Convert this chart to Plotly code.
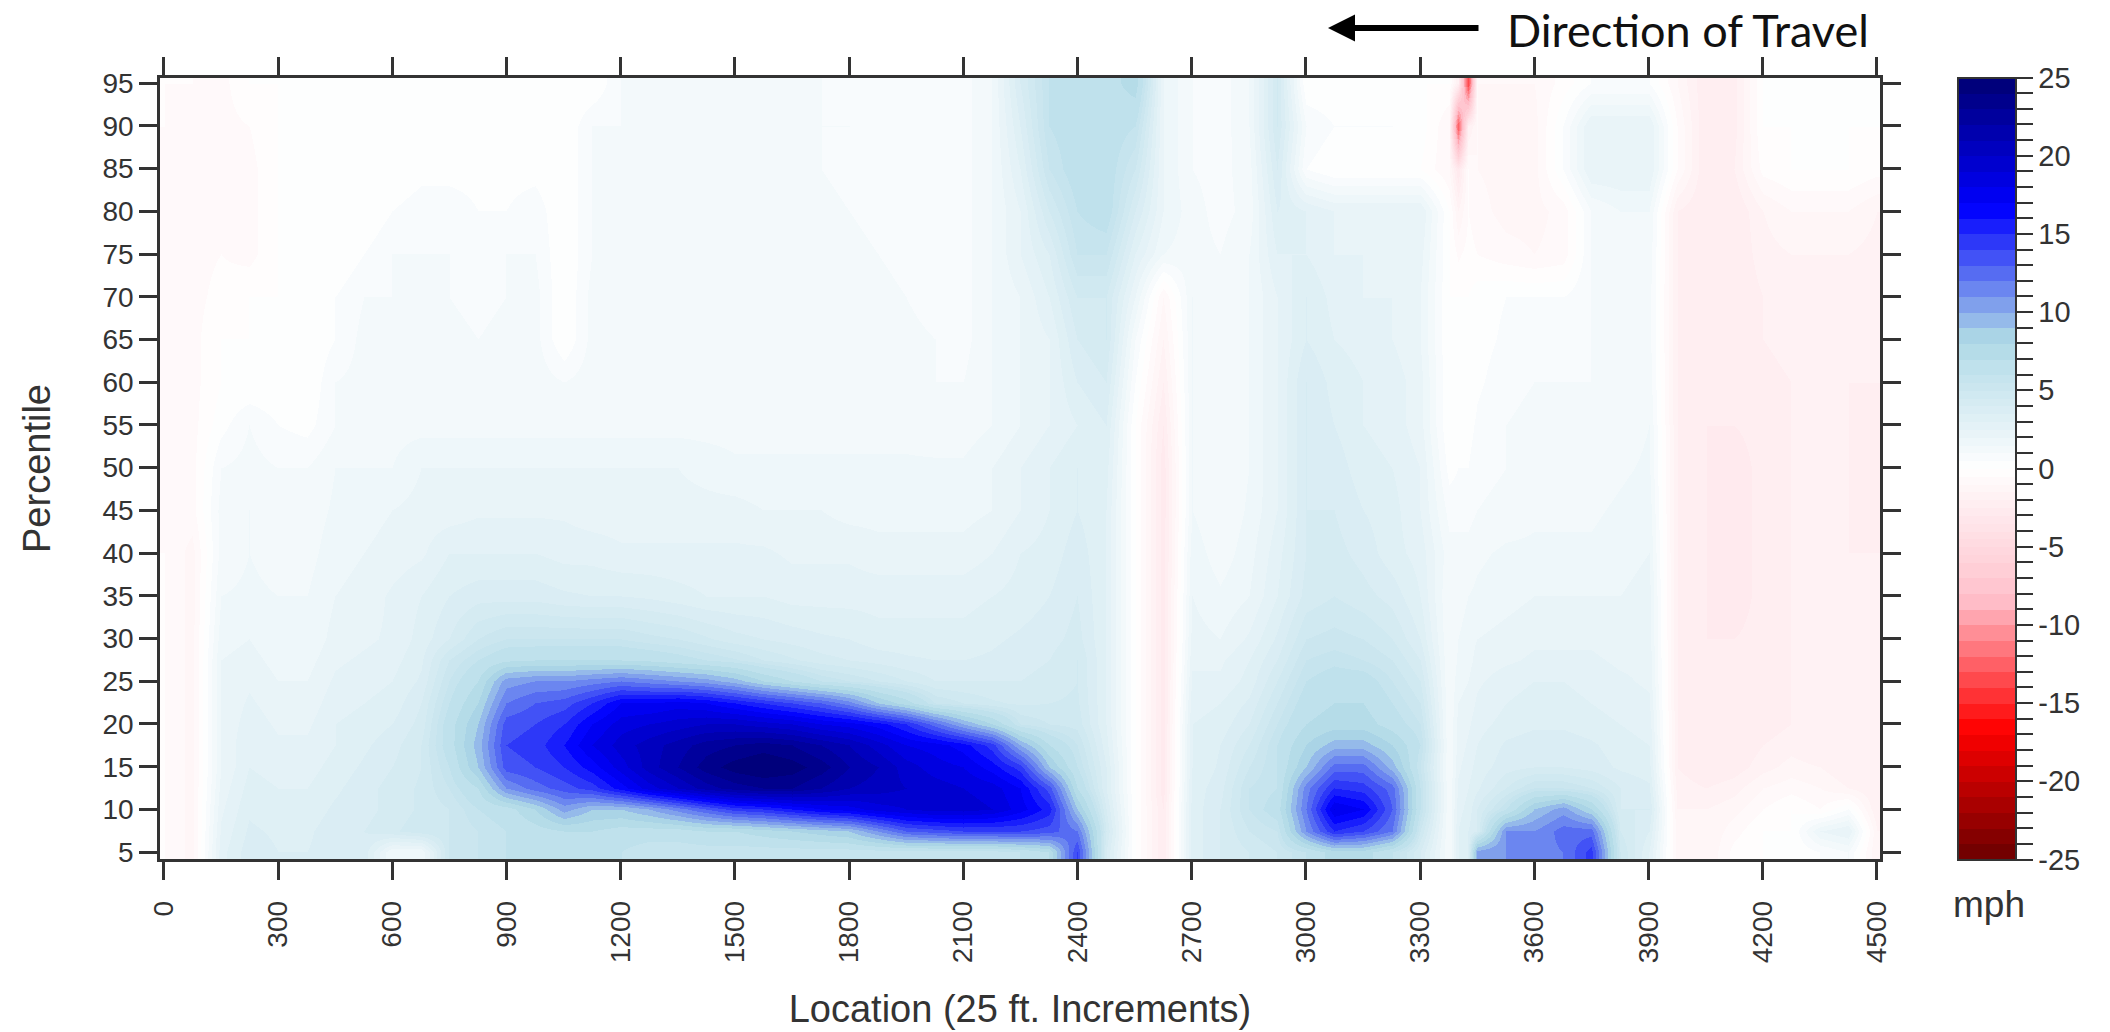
import plotly.graph_objects as go

# Location columns (ft)
locations = [0,75,150,225,300,375,450,525,600,675,
             750,825,900,975,1050,1125,1200,1275,1350,1425,
             1500,1575,1650,1725,1800,1875,1950,2025,2100,2175,
             2250,2325,2400,2475,2550,2625,2700,2775,2850,2925,
             3000,3075,3150,3225,3300,3375,3400,3425,3450,3525,
             3600,3675,3750,3825,3900,3975,4050,4125,4200,4275,
             4350,4425,4500]

p95 = [-0.5,-0.5,-0.7,0,0,0,0,0,0,0, 0,0,0,0,0,0,1,1,1,1, 1,1,1,1,0.6,0.6,0.6,0.6,0.8,1.5,
       4,6,6.5,6.5,7.5,2,1,0.7,1.5,4.5, 0,0,0,0,0,0,-2,-14,-1,-1, -1,-0.3,0.5,0.5,0.5,-1,-2.5,-2.2,0,0, 0,0,0]
p90 = [-0.5,-0.7,-0.7,-0.5,0,0,0,0,0,0, 0,0,0,0,0,1,1,1,1,1, 1,1,1,1,1,0.6,0.5,0.6,0.8,1.5,
       3.5,6,6.5,6.5,6,2,1,0.7,1.5,4.5, 1,0.5,0.5,0.5,0.3,-1,-13,-2,-1,-1.2, -1.2,0.5,2.5,2.5,2.5,-0.5,-2.5,-2.2,0,0, 0,0,0]
p85 = [-0.7,-0.7,-0.7,-0.7,0,0,0,0,0,0.3, 0.3,0.3,0.3,0.3,0,1,1,1.2,1.2,1.2, 1.2,1.2,1.2,1,0.8,0.5,0.5,0.5,0.8,1.5,
       3,5.5,6.5,6.5,5,2,1,0.8,1.3,4, 0.5,0,0,0,0,-1,-3,-0.5,-1,-1.2, -1.2,0.5,2.5,2.5,2.5,-0.5,-2.5,-2,-0.3,0, 0,0,-0.3]
p80 = [-0.7,-0.7,-0.7,-0.7,0,0,0,0,0.5,0.8, 0.8,0.5,0.5,0.8,0,1,1.2,1.2,1.2,1.2, 1.2,1.2,1.2,1.2,1,0.8,0.6,0.6,0.8,1.5,
       2.5,4.5,6,6.5,4,2,1.2,0.8,1.2,3.5, 3,2.5,2.5,2.5,2.5,0,-1.5,-0.5,-0.8,-1.2, -1.2,-0.8,1,1.5,1.5,-2,-2.5,-2.5,-1.5,-1, -1,-1,-1.5]
p75 = [-0.7,-0.7,-0.5,-0.7,0,0,0,0.5,1,1, 1,0.8,1,1,0,1,1.2,1.2,1.2,1.2, 1.2,1.2,1.2,1.2,1.2,1,0.8,0.6,0.8,1.5,
       2.5,3.5,5.5,5.5,3,1.5,1.2,1,1.5,3, 3,2.5,2.5,2.5,2.2,0,-0.6,-0.3,-0.5,-0.8, -1,-0.8,1,1.3,1.3,-2,-2.5,-2.5,-1.7,-1.5, -1.5,-1.5,-1.7]
p70 = [-0.7,-0.7,-0.3,0,0,0,0.5,1,1,1, 1,0.8,1,1.2,0,1.2,1.2,1.2,1.2,1.2, 1.2,1.2,1.2,1.2,1.2,1.2,1,0.7,0.8,1.5,
       2,3,4.5,4.5,2,-1,1.5,1.2,1.5,2.5, 3.5,2.8,2.5,2.5,2,0,0,0,0.3,0.5, 0.5,0.5,1,1.2,1.2,-2,-2.5,-2.5,-2,-1.7, -1.7,-1.7,-2]
p65 = [-0.8,-0.7,0,0,0,0,0.5,1.2,1.2,1.2, 1.2,1,1.2,1.2,0,1.2,1.2,1.2,1.2,1.2, 1.2,1.2,1.2,1.2,1.2,1.2,1.2,1,0.8,1.5,
       2,2.5,4,4.5,1,-1.5,1.5,1.2,1.5,2.5, 3.5,3,2.8,2.5,2,0,0,0,0.3,0.6, 0.8,0.8,1,1.2,1.2,-2,-2.5,-2.5,-2,-1.8, -1.8,-1.8,-2]
p60 = [-0.8,-0.7,0,0,0,0,1,1.2,1.2,1.2, 1.2,1.2,1.2,1.3,1,1.3,1.3,1.3,1.3,1.3, 1.3,1.3,1.3,1.3,1.3,1.3,1.2,1,1,1.5,
       2,2.5,3.5,4,0.5,-2,1.5,1.2,1.5,2.5, 4,3.3,3,2.8,2.2,0,0,0,0.4,0.8, 1,1,1,1.2,1.3,-2,-2.5,-2.5,-2.2,-2, -2,-2,-2]
p55 = [-0.8,-0.7,0.3,1,0.5,0.3,1,1.2,1.3,1.3, 1.3,1.3,1.3,1.3,1.3,1.3,1.3,1.3,1.3,1.3, 1.3,1.3,1.3,1.3,1.3,1.3,1.3,1.2,1.2,1.5,
       2,2.5,3,3.5,0,-2.5,1.5,1,1.5,2.5, 4,3.5,3,2.8,2.2,0,0.3,0.3,0.6,1, 1.2,1.2,1,1.2,1.5,-2,-2.5,-2.5,-2.3,-2, -2,-2,-2.3]
p50 = [-0.7,-0.7,1,1.2,1,1,1.5,1.5,1.5,2, 2,2,2,2,2,2,2,2,2,1.8, 1.6,1.6,1.6,1.6,1.6,1.6,1.6,1.6,1.6,2,
       2.5,3,3.5,3.2,0,-2.8,1.5,1,1.5,2.5, 4,3.8,3.2,3,2.5,0.3,0.5,0.5,0.8,1, 1.2,1.2,1.2,1.4,1.6,-2,-2.5,-2.8,-2.3,-2, -2,-2,-2.3]
p45 = [-0.7,-0.7,1.2,1.5,1.2,1.2,1.6,1.8,2,2.2, 2.2,2.4,2.4,2.4,2.4,2.2,2.2,2.2,2.2,2.2, 2.2,2,2,2,1.8,1.8,1.8,1.8,1.8,2,
       2.5,3,3.5,3,0,-2.8,1.5,1,1.6,2.5, 4,4,3.5,3.2,2.5,0.8,0.8,0.8,1,1.2, 1.4,1.4,1.4,1.6,1.8,-2,-2.5,-2.8,-2.3,-2, -2,-2,-2.3]
p40 = [-0.5,-1.2,1.2,1.5,1.3,1.3,1.8,2,2.2,2.4, 3,3,3,3,2.8,2.8,2.6,2.6,2.6,2.6, 2.6,2.6,2.4,2.4,2.4,2.2,2.2,2.2,2.2,2.5,
       3,3.2,3.8,3,0,-2.8,1.8,1.2,1.8,2.8, 4,4.2,3.8,3.2,2.8,1.2,1.2,1.2,1.4,1.6, 1.6,1.6,1.6,1.8,2,-2,-2.5,-2.8,-2.3,-2, -2,-2,-2]
p35 = [-0.5,-1.2,1.5,1.6,1.5,1.5,2,2.2,2.6,3, 3.5,3.8,3.8,3.8,3.6,3.5,3.5,3.4,3.2,3, 3,3,2.8,2.8,2.8,2.8,2.8,2.8,2.8,3,
       3.2,3.5,4,3,0,-2.8,2,1.6,2,3, 4.2,4.5,4.2,3.8,3,1,1.2,1.5,1.6,1.8, 2,2,2,2,2.2,-2,-2.5,-2.8,-2.3,-2, -2,-2,-2]
p30 = [-0.5,-1.2,1.8,2,1.6,1.6,2.2,2.4,2.6,3.2, 4,5,5.5,5.5,5.5,5.5,5.5,5.2,5,4.6, 4.2,4,3.8,3.6,3.5,3.2,3.2,3.2,3.2,3.4,
       3.6,3.8,4.2,3,0,-2.8,2.2,2,2.6,3.6, 5,5.2,5,4.5,3.5,1,1.5,1.8,2,2.2, 2.4,2.4,2.4,2.2,2.2,-2,-2.5,-2.5,-2.3,-2, -2,-2,-2]
p27_5 = [-0.5,-1.2,2,2.2,1.8,1.8,2.4,2.6,2.8,3.4, 5,6,6.8,7,7,7,7,6.8,6.4,6, 5.6,5,4.6,4.2,4,3.8,3.6,3.5,3.5,3.6,
         3.8,4,4.5,3,0,-2.8,2.4,2.4,3,4, 5.5,5.8,5.5,5,4,1,1.6,1.8,2.2,2.4, 2.6,2.6,2.6,2.4,2.4,-2,-2.5,-2.5,-2.3,-2, -2,-2,-2]
p25 = [-0.5,-1.2,2,2.4,2,2,2.6,2.8,3,3.6, 5.5,7,10.5,11,11,11.5,12,11.5,11,10.5, 9.5,8,7,6,5.5,5,4.5,4,4,4,
       4,4.2,4.5,3,0,-2.8,2.6,2.6,3.2,4.5, 6,6.5,6.5,5.5,4.5,1,1.8,2,2.4,2.8, 3,3,2.8,2.6,2.4,-2,-2.5,-2.5,-2.3,-2, -2,-2,-2]
p22_5 = [-0.5,-1.2,2,2.6,2.2,2.2,2.8,3,3.2,4, 6,8,12,13,13.5,15,17,17,17.5,17, 16,15,14,13,11.5,9,7.5,5.5,5,4.6,
         4.4,4.5,4.6,3,0,-2.8,2.8,3,3.6,5, 6.5,7,7,6,5,1,2,2.2,2.6,3, 3.2,3.2,3,2.8,2.6,-2,-2.5,-2.5,-2.3,-2, -2,-2,-2]
p20 = [-0.5,-1.2,2,2.8,2.4,2.4,3,3.2,3.5,4.2, 6.5,9,13.5,14,15,17,18.5,19,19.5,20, 20,19.5,19,18,17.5,16.5,15,12.5,10,8,
       5.5,5,4.8,3,0,-2.8,3,3.2,4,5.5, 7,7.5,7.5,6.5,5.5,1,2.2,2.4,2.8,3.2, 3.4,3.4,3.2,3,2.8,-2,-2.5,-2.5,-2.3,-2, -2,-2,-2]
p17_5 = [-0.5,-1.2,2,3,2.6,2.6,3,3.4,3.8,4.5, 6.5,9.5,14,14.5,16,18,19.5,20.5,21.5,22.5, 23,23.5,23,22,21,19.5,18,17.5,16.5,14.5,
         10,7,5.5,3.2,0,-2.8,3,3.5,4.5,6, 8,9.5,9.5,8,6,1,2.2,2.6,3,3.6, 3.8,3.8,3.6,3.2,3,-2,-2.5,-2.5,-2,-1.7, -2,-2,-2]
p15 = [-0.5,-1.2,2,3,2.8,2.8,3.2,3.6,4,4.5, 6,9,13.5,14,15,16.5,18.5,20.5,22,23.5, 24.5,25,24.5,23.5,22,21,19.5,18.5,18,16.5,
       14.5,9,6,3.5,0,-2.8,3,3.6,5,6, 9,12.5,12.5,9.5,5.5,1,2.4,2.8,3.2,3.8, 4,4,3.8,3.4,3.2,-2,-2.5,-2.3,-1.7,-1.3, -1.5,-2,-2]
p12_5 = [-0.5,-1.2,2.2,3.2,3,3,3.4,3.8,4.2,4.6, 5.5,7,11,12.5,13.5,14.5,16.5,18.5,20,21.5, 22.5,23,23,22,21,20.5,20,19.5,19,18.5,
         17,13.5,7,3.5,0,-2.8,3.2,3.8,5.5,6, 11.5,15,14.5,12.5,6,1,2.6,3,3.4,4.5, 5.5,5.5,5,4,3.6,-1.7,-2,-1.7,-1,-0.7, -1,-1.5,-2]
p10 = [-0.5,-1.2,2.4,3.4,3.2,3.2,3.6,3.8,4.2,4.6, 5,6,6.5,8,10.5,9,9,10,11.5,13, 14.5,15,16,17,17.5,18.5,19,19.5,19.5,19,
       17.5,15.5,9,4,0,-2.5,3.2,4,5.5,6.5, 12,18,17,13,6,1,2.8,3.2,4,6, 9,10.5,8,4,4,-1.5,-1.5,-1.2,-0.5,0, -0.5,0.5,-2]
p7_5 = [-0.5,-1.2,2.6,3.6,3.4,3.4,3.8,4,4.4,4.8, 5,5.5,6,6.5,7,7,6.5,6.5,6.5,7, 7,7.5,8,8.5,9,11,13,13.5,14,14,
        14,13.5,12,4.5,0,-2.5,3.2,4,5,5.5, 11,15,14,12,5,1,3,3.5,4,11, 11,12.5,12.5,4.5,3.5,-1.2,-1.5,-0.7,0,0, 2,2.5,-1.5]
p5 = [-0.5,-1.2,2.8,3.8,3.5,3.5,3.8,3.8,1.5,1.5, 5,5.5,6,6,6,6,6,5.5,5.5,5.5, 5.5,5.5,5.5,5.5,5.5,5.5,5.5,5.5,5.5,5.5,
      6,7,14,4,0,-2.5,3.2,4,4.5,5, 6,7.5,7.5,6,4,1,3,3.5,10.5,11, 11.5,12,14.5,5,3,-1.2,-1.5,-0.3,0,0, 0.5,1,-1.5]

percentiles = [5,7.5,10,12.5,15,17.5,20,22.5,25,27.5,30,35,40,45,50,55,60,65,70,75,80,85,90,95]
speed_diff = [p5,p7_5,p10,p12_5,p15,p17_5,p20,p22_5,p25,p27_5,p30,p35,p40,p45,p50,p55,p60,p65,p70,p75,p80,p85,p90,p95]
for row in speed_diff:
    assert len(row) == len(locations)

x_ticks = list(range(0, 4501, 300))
y_ticks = list(range(5, 96, 5))
bar_labels = {v: str(v) for v in range(-25, 26, 5)}
bar_ticks = list(range(-25, 26))

# Palette of the original legend, from -25 to 25, drawn in one-unit bands (half-unit near zero)
palette = [(106,0,0),(255,0,0),(255,192,203),(255,255,255),(173,216,230),(0,0,255),(0,0,115)]
def colour_at(v):
    t = (v + 25) / 50 * (len(palette) - 1)
    i = min(int(t), len(palette) - 2)
    f = t - i
    a, b = palette[i], palette[i + 1]
    return "rgb(%d,%d,%d)" % tuple(round(a[k] + (b[k] - a[k]) * f) for k in range(3))
edges = [-25 + k for k in range(19)] + [-6 + k * 0.5 for k in range(24)] + [6 + k for k in range(20)]
scale = []
for lo, hi in zip(edges[:-1], edges[1:]):
    c = colour_at((lo + hi) / 2)
    scale += [[(lo + 25) / 50, c], [(hi + 25) / 50, c]]

INK = "#333333"
FONT = "Liberation Sans"
L, R, T, B = 160, 1880, 78, 859   # plot frame in page pixels
W, H = 2110, 1032

def px(x): return (x - L) / (R - L)
def py(y): return (B - y) / (B - T)

fig = go.Figure(go.Heatmap(
    x=locations, y=percentiles, z=speed_diff, zmin=-25, zmax=25, zsmooth="best",
    colorscale=scale,
    colorbar=dict(
        x=px(1958), xanchor="left", xpad=0,
        y=0.5, yanchor="middle", ypad=0,
        thickness=58, thicknessmode="pixels", len=782, lenmode="pixels",
        outlinewidth=2, outlinecolor=INK,
        tickmode="array", tickvals=bar_ticks,
        ticktext=[bar_labels.get(v, "") for v in bar_ticks],
        ticks="outside", ticklen=16, tickwidth=2, tickcolor=INK,
        tickfont=dict(family=FONT, size=29, color=INK),
    ),
))

axis_common = dict(showgrid=False, zeroline=False, showline=True, linewidth=2.5, linecolor=INK,
                   mirror="ticks", ticks="outside", tickwidth=2.5, tickcolor=INK,
                   tickfont=dict(family=FONT, size=28, color=INK))
fig.update_xaxes(range=[-10, 4508], tickmode="array", tickvals=x_ticks, ticktext=[str(v) for v in x_ticks],
                 tickangle=-90, ticklen=18, ticklabelstandoff=10,
                 title=dict(text="Location (25 ft. Increments)", font=dict(family=FONT, size=38, color=INK), standoff=34),
                 **axis_common)
fig.update_yaxes(range=[4.2, 95.6], tickmode="array", tickvals=y_ticks, ticktext=[str(v) for v in y_ticks],
                 ticklen=18,
                 title=dict(text="Percentile", font=dict(family=FONT, size=38, color=INK), standoff=41),
                 **axis_common)

fig.add_annotation(xref="paper", yref="paper", x=px(1505), y=py(30), xanchor="left", yanchor="middle",
                   showarrow=False, text="Direction of Travel",
                   font=dict(family="Lato", size=45, color="#111111"))
fig.add_annotation(xref="paper", yref="paper", x=px(1328), y=py(28), axref="pixel", ayref="pixel",
                   ax=152, ay=0, text="", showarrow=True, arrowhead=2, arrowsize=0.9, arrowwidth=6,
                   arrowcolor="black")
fig.add_annotation(xref="paper", yref="paper", x=px(1989), y=py(904), xanchor="center", yanchor="middle",
                   showarrow=False, text="mph", font=dict(family=FONT, size=37, color=INK))

fig.update_layout(width=W, height=H,
                  margin=dict(l=L, r=W - R, t=T, b=H - B, autoexpand=False),
                  paper_bgcolor="white", plot_bgcolor="white", showlegend=False)
# The page gets no body margin, so the figure fills the window exactly; no toolbar over the title.
fig.write_html("out.html", config={"displayModeBar": False},
               post_script="document.body.style.margin='0';")
